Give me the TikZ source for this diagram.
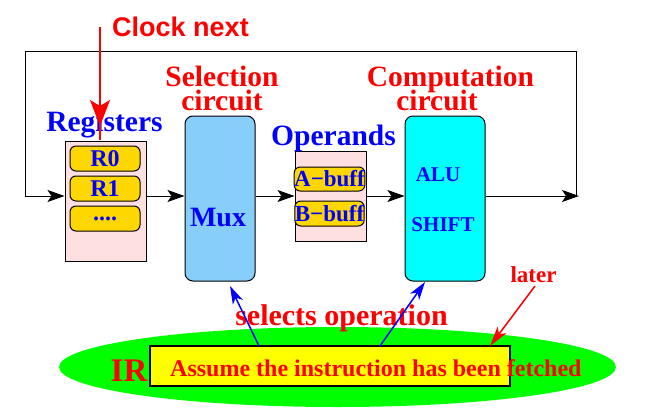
\documentclass[tikz,border=0pt]{standalone}
\usepackage{fontspec}
\setmainfont{Liberation Serif}
\newfontfamily\hsans{Liberation Sans}
\usetikzlibrary{arrows.meta,shapes.geometric}
\definecolor{pinkbg}{HTML}{FFE0E0}
\definecolor{gold}{HTML}{FFD700}
\definecolor{muxblue}{HTML}{87CEFA}
\definecolor{aqua}{HTML}{00FFFF}
\definecolor{lime}{HTML}{00FF00}
\definecolor{yel}{HTML}{FFFF00}
\definecolor{rd}{HTML}{FF0000}
\definecolor{bl}{HTML}{0000FF}
\newcommand{\fs}[1]{\fontsize{#1}{#1}\selectfont\bfseries}
\begin{document}
\begin{tikzpicture}[x=1pt,y=-1pt,
  box/.style={draw=black, line width=1pt, inner sep=0pt, anchor=center},
  pill/.style={draw=black, line width=1pt, fill=gold, rounded corners=6pt, minimum width=70pt, minimum height=25pt, inner sep=0pt, text=bl},
  lbl/.style={inner sep=0pt, anchor=base},
  conn/.style={line width=1pt, black},
  arr/.style={line width=1pt, black, -{Stealth[length=17pt,width=12pt,inset=4pt]}},
  barr/.style={line width=1.5pt, bl, -{Stealth[length=18pt,width=11pt,inset=5pt]}},
  rarr/.style={line width=1.5pt, rd, -{Stealth[length=20pt,width=11pt,inset=5pt]}}
]
\useasboundingbox (0,0) rectangle (672,407);
\fill[white] (0,0) rectangle (672,407);

% coordinates
\coordinate (loopy) at (0,196);
\coordinate (lp1) at (576,196);
\coordinate (lp2) at (576,51);
\coordinate (lp3) at (25,51);
\coordinate (lp4) at (25,196);
\coordinate (outend) at (579,196);

% IR ellipse and instruction box
\node[ellipse, fill=lime, minimum width=557pt, minimum height=80pt, inner sep=0pt] (irell) at (337.5,367) {};
\node[box, line width=2pt, fill=yel, minimum width=360pt, minimum height=40pt] (ibox) at (330,366) {};
\node[lbl, text=rd, font=\fs{33}] (irtxt) at (129,381) {IR};
\node[lbl, anchor=base west, text=rd, font=\fs{24}] (assume) at (170,376) {Assume the instruction has been fetched};

% boxes
\node[box, fill=pinkbg, minimum width=81pt, minimum height=120pt] (reg) at (105.5,201) {};
\node[pill, font=\fs{24}] (r0) at (105,158.5) {R0};
\node[pill, font=\fs{24}] (r1) at (105,188.5) {R1};
\node[pill, font=\fs{24}] (r2) at (105,218.5) {....};

\node[box, fill=muxblue, rounded corners=8pt, minimum width=70pt, minimum height=165pt] (mux) at (220,198.5) {};
\node[lbl, text=bl, font=\fs{28}] (muxtxt) at (218,226) {Mux};

\node[box, fill=pinkbg, minimum width=71pt, minimum height=90pt] (opd) at (330.5,196) {};
\node[pill, minimum width=69pt, minimum height=24pt, font=\fs{23}] (ab) at (329.5,179) {A−buff};
\node[pill, minimum width=69pt, minimum height=25pt, font=\fs{23}] (bb) at (329.5,213.5) {B−buff};

\node[box, fill=aqua, rounded corners=8pt, minimum width=80pt, minimum height=165pt] (alu) at (445,198.5) {};
\node[lbl, text=bl, font=\fs{21}] (alutxt) at (438,181) {ALU};
\node[lbl, text=bl, font=\fs{21}] (shtxt) at (443,231) {SHIFT};

% titles
\node[lbl, text=rd, font=\hsans\fs{27}] (clocktxt) at (180.5,36) {Clock next};
\node[lbl, text=bl, font=\fs{29.5}] (regtxt) at (104.5,131) {Registers};
\node[lbl, text=rd, font=\fs{29.5}] (sel1) at (222,86) {Selection};
\node[lbl, text=rd, font=\fs{29.5}] (sel2) at (222,110) {circuit};
\node[lbl, text=bl, font=\fs{29.5}] (opdtxt) at (333.5,145) {Operands};
\node[lbl, text=rd, font=\fs{29.5}] (comp1) at (450.5,86) {Computation};
\node[lbl, text=rd, font=\fs{29.5}] (comp2) at (437,110) {circuit};
\node[lbl, text=rd, font=\fs{30}] (seltxt) at (341.5,325) {selects operation};
\node[lbl, text=rd, font=\fs{23}] (later) at (533.5,282) {later};

% data path
\draw[arr] (reg.east |- loopy) -- (mux.west |- loopy);
\draw[arr] (mux.east |- loopy) -- (opd.west |- loopy);
\draw[arr] (opd.east |- loopy) -- (alu.west |- loopy);
\draw[arr] (alu.east |- loopy) -- (outend);
\draw[conn] (lp1) -- (lp2) -- (lp3) -- (lp4);
\draw[arr] (lp4) -- (reg.west |- loopy);

% clock arrow
\coordinate (clk) at (100,27);
\coordinate (clkhead) at (100,126);
\coordinate (clkend) at (100,140);
\draw[rd, line width=2pt] (clk) -- (clkend);
\draw[rd, line width=2pt, -{Stealth[length=26pt,width=20pt,inset=6pt]}] (clk) -- (clkhead);

% control arrows
\coordinate (ir1) at (259,346);
\coordinate (muxin) at (230,286);
\coordinate (ir2) at (380,346);
\coordinate (aluin) at (425,282);
\coordinate (lat1) at (535,286);
\coordinate (lat2) at (490,346);
\draw[barr] (ir1) -- (muxin);
\draw[barr] (ir2) -- (aluin);
\draw[rarr] (lat1) -- (lat2);
\end{tikzpicture}
\end{document}
